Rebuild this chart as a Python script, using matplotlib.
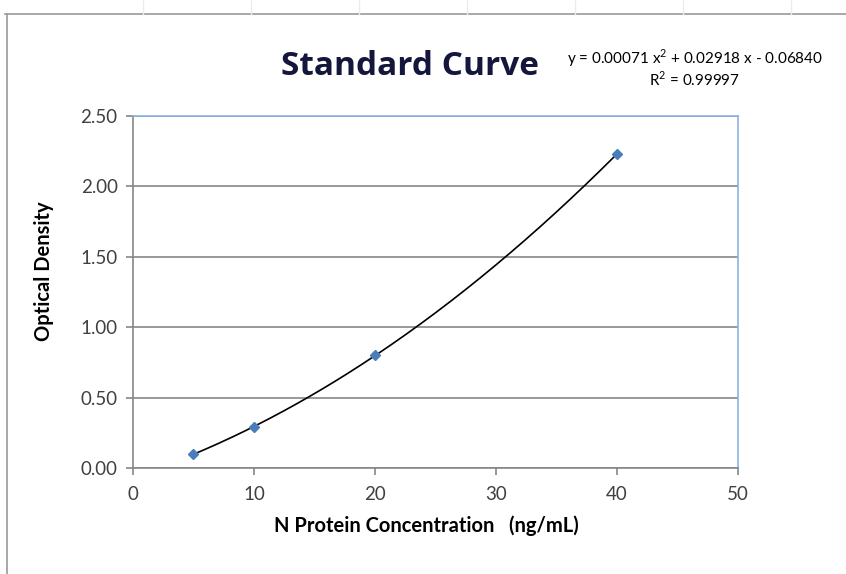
import numpy as np
import matplotlib.pyplot as plt
from matplotlib.lines import Line2D

# standard points
concentration = [5, 10, 20, 40]
optical_density = [0.10, 0.29, 0.80, 2.23]

x_ticks = [0, 10, 20, 30, 40, 50]
y_ticks = [0.0, 0.5, 1.0, 1.5, 2.0, 2.5]

equation_text = 'y = 0.00071 x$^2$ + 0.02918 x - 0.06840'
r2_text = 'R$^2$ = 0.99997'

plt.rcParams['font.family'] = ['Lato', 'DejaVu Sans']
plt.rcParams['mathtext.fontset'] = 'custom'
plt.rcParams['mathtext.rm'] = 'Lato'

fig = plt.figure(figsize=(8.46, 5.74), dpi=100)
ax = fig.add_axes([0.1572, 0.1847, 0.7151, 0.6132])

# quadratic trendline (Excel style) fitted to the points
coef = np.polyfit(concentration, optical_density, 2)
xs = np.linspace(min(concentration), max(concentration), 200)
ax.plot(xs, np.polyval(coef, xs), color='black', lw=1.2, zorder=3)
ax.plot(concentration, optical_density, 'D', color='#4a7ebb', ms=5.5,
        markeredgecolor='#4a7ebb', zorder=4)

ax.set_xlim(0, 50)
ax.set_ylim(0, 2.5)
ax.set_xticks(x_ticks)
ax.set_yticks(y_ticks)
ax.set_yticklabels([f'{v:.2f}' for v in y_ticks])
ax.tick_params(axis='both', direction='out', length=5, width=1.2,
               color='#868686', labelsize=13.5, labelcolor='#404040', pad=6)
ax.tick_params(axis='x', pad=8)

ax.grid(axis='y', color='#868686', lw=1.2)
ax.set_axisbelow(True)
for s in ['left', 'bottom']:
    ax.spines[s].set_color('#868686')
    ax.spines[s].set_linewidth(1.2)
for s in ['top', 'right']:
    ax.spines[s].set_color('#8db3e2')
    ax.spines[s].set_linewidth(1.2)

ax.set_xlabel('N Protein Concentration   (ng/mL)', fontsize=14.5,
              fontweight='bold')
ax.xaxis.set_label_coords(0.485, -0.135)
ax.set_ylabel('Optical Density', fontsize=14.5, fontweight='bold')
ax.yaxis.set_label_coords(-0.13, 0.56)

fig.text(0.485, 0.885, 'Standard Curve', fontsize=24, fontweight='bold',
         color='#14163c', ha='center', va='center', family='Open Sans')
fig.text(0.821, 0.898, equation_text, fontsize=11, ha='center', va='center')
fig.text(0.821, 0.861, r2_text, fontsize=11, ha='center', va='center')

# outer chart frame and faint sheet gridlines
fig.add_artist(Line2D([0.006, 1.0], [0.976, 0.976], color='#9a9a9a', lw=1.2))
fig.add_artist(Line2D([0.008, 0.008], [0.0, 0.976], color='#9a9a9a', lw=1.2))
for gx in [143, 251, 359, 467, 575, 683, 791]:
    fig.add_artist(Line2D([gx / 846, gx / 846], [0.976, 1.0], color='#ececec', lw=1))

fig.savefig('out.png', dpi=100)
